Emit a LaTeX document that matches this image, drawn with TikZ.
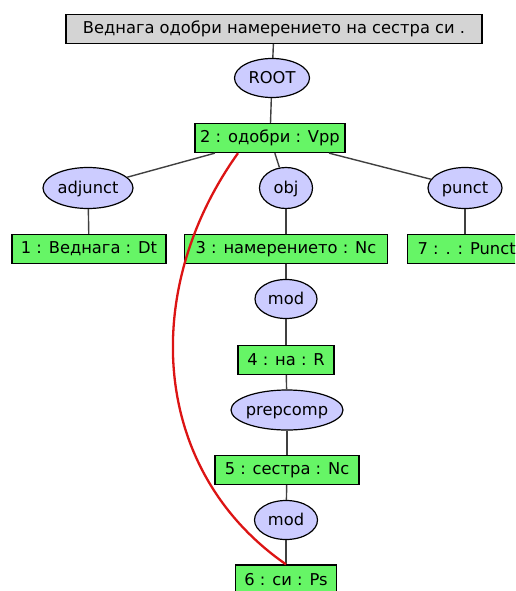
\documentclass[tikz,border=0pt]{standalone}
\usepackage{fontspec}
\setmainfont{DejaVu Sans}
\usetikzlibrary{shapes.geometric}
\definecolor{boxgreen}{RGB}{102,245,102}
\definecolor{lav}{RGB}{204,204,255}
\definecolor{sentgray}{RGB}{212,212,212}
\definecolor{edgegray}{RGB}{64,64,64}
\definecolor{arcred}{RGB}{220,20,20}
\newcommand\rlab[1]{\makebox[0pt]{\raisebox{-.36em}[0pt][0pt]{#1}}}
\begin{document}
\begin{tikzpicture}[x=1pt,y=-1pt,
  font=\fontsize{16.3}{18}\selectfont,
  word/.style={draw=black,line width=1.3pt,fill=boxgreen,minimum height=29pt,inner xsep=3pt,inner ysep=0pt},
  sent/.style={draw=black,line width=1.3pt,fill=sentgray,minimum height=29pt,inner xsep=3pt,inner ysep=0pt},
  rel/.style={ellipse,draw=black,line width=1.2pt,fill=lav,inner sep=0pt,minimum height=39pt},
  link/.style={draw=edgegray,line width=1.4pt},
  arc/.style={draw=arcred,line width=2.3pt}]
\useasboundingbox (0,0) rectangle (515,591);
\clip (0,0) rectangle (515,591);
\node[sent,minimum width=416pt] (s) at (274,29) {Веднага одобри намерението на сестра си .};
\node[rel,minimum width=75pt] (root) at (272,78) {\rlab{ROOT}};
\node[word,minimum width=150pt] (w2) at (270,138) {2 : одобри : Vpp};
\node[rel,minimum width=90pt,minimum height=41pt] (adj) at (88,188) {\rlab{adjunct}};
\node[rel,minimum width=53pt,minimum height=41pt] (obj) at (286,188) {\rlab{obj}};
\node[rel,minimum width=74pt,minimum height=41pt] (pun) at (465,188) {\rlab{punct}};
\node[word,minimum width=154pt] (w1) at (89,249) {1 : Веднага : Dt};
\node[word,minimum width=203pt] (w3) at (286,249) {3 : намерението : Nc};
\node[word,anchor=west,minimum width=118pt] (w7) at (407,249) {7 : . : Punct};
\node[rel,minimum width=62pt] (mod1) at (286,299) {\rlab{mod}};
\node[word,minimum width=96pt] (w4) at (286,360) {4 : на : R};
\node[rel,minimum width=112pt,minimum height=40pt] (prep) at (287,410) {\rlab{prepcomp}};
\node[word,minimum width=144pt] (w5) at (287,470) {5 : сестра : Nc};
\node[rel,minimum width=63pt] (mod2) at (286,520) {\rlab{mod}};
\node[word,minimum width=101pt] (w6) at (286,579.5) {6 : си : Ps};
\path[link] (s) -- (root);
\path[link] (root) -- (w2);
\path[link] (w2) -- (adj);
\path[link] (w2) -- (obj);
\path[link] (w2) -- (pun);
\path[link] (adj) -- (w1);
\path[link] (obj) -- (w3);
\path[link] (pun) -- (w7.north -| pun);
\path[link] (w3) -- (mod1);
\path[link] (mod1) -- (w4);
\path[link] (w4) -- (prep);
\path[link] (prep) -- (w5);
\path[link] (w5) -- (mod2);
\path[link] (mod2) -- (w6);
\coordinate (a1) at (238,152.5);
\path[arc] (w2.south -| a1) .. controls (140,290) and (150,470) .. (w6.north);
\end{tikzpicture}
\end{document}
